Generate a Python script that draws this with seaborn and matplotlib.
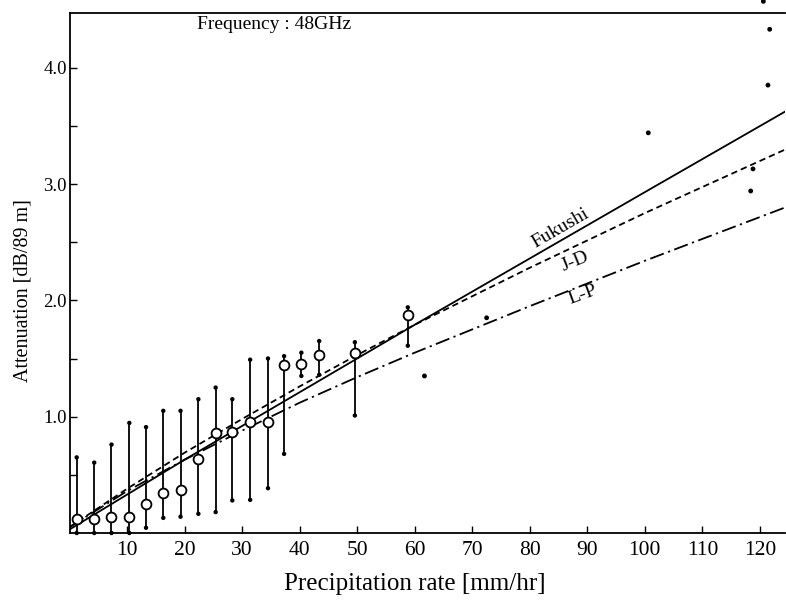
import numpy as np
import pandas as pd
import matplotlib
matplotlib.use("Agg")
import matplotlib.pyplot as plt
import seaborn as sns

# ---- data ----
rate = [1.25, 4.3, 7.3, 10.4, 13.3, 16.3, 19.3, 22.4, 25.4, 28.3, 31.4,
        34.5, 37.3, 40.3, 43.4, 49.6, 58.8]
atten_mean = [0.12, 0.12, 0.14, 0.14, 0.25, 0.34, 0.37, 0.64, 0.86, 0.87,
              0.95, 0.95, 1.44, 1.45, 1.53, 1.55, 1.87]
atten_low = [0.0, 0.0, 0.0, 0.0, 0.045, 0.13, 0.14, 0.165, 0.18, 0.28,
             0.285, 0.385, 0.68, 1.35, 1.36, 1.01, 1.61]
atten_high = [0.65, 0.605, 0.76, 0.946, 0.91, 1.05, 1.05, 1.15, 1.25, 1.15,
              1.49, 1.50, 1.52, 1.55, 1.65, 1.64, 1.94]

single_rate = [61.7, 72.5, 100.6, 118.8, 118.4, 121.7, 121.4, 120.6]
single_atten = [1.35, 1.85, 3.44, 3.13, 2.94, 4.33, 3.85, 4.57]

model_rate = [0, 10, 20, 30, 40, 50, 60, 80, 100, 125]
fukushi = [0.03, 0.33, 0.63, 0.92, 1.21, 1.50, 1.79, 2.36, 2.93, 3.64]
jd = [0.05, 0.38, 0.69, 0.98, 1.26, 1.53, 1.79, 2.28, 2.75, 3.31]
lp = [0.05, 0.36, 0.63, 0.88, 1.12, 1.34, 1.55, 1.95, 2.34, 2.81]

x_ticks = [10, 20, 30, 40, 50, 60, 70, 80, 90, 100, 110, 120]
y_ticks = [1.0, 2.0, 3.0, 4.0]
y_minor = [0.5, 1.5, 2.5, 3.5]

# ---- style ----
sns.set_theme(style="ticks")
plt.rcParams["font.family"] = ["Liberation Serif", "DejaVu Serif"]

fig = plt.figure(figsize=(7.86, 6.03), dpi=100)
ax = fig.add_axes([69.5 / 786, 1 - 533 / 603, 1 - 69.5 / 786 - 0.001, (533 - 13) / 603])

models = pd.DataFrame({"rate": model_rate * 3,
                       "atten": fukushi + jd + lp,
                       "model": ["Fukushi"] * len(model_rate) + ["J-D"] * len(model_rate)
                       + ["L-P"] * len(model_rate)})
sns.lineplot(data=models, x="rate", y="atten", style="model",
             dashes={"Fukushi": "", "J-D": (3.5, 2.2), "L-P": (8, 2.5, 1.2, 2.5)},
             color="black", linewidth=1.3, legend=False, ax=ax, zorder=2)

# error bars
ax.vlines(rate, atten_low, atten_high, colors="black", linewidth=1.3, zorder=3)
ends = pd.DataFrame({"rate": rate + rate, "atten": atten_low + atten_high})
sns.scatterplot(data=ends, x="rate", y="atten", color="black", s=10,
                edgecolor="none", ax=ax, zorder=4, clip_on=False)

means = pd.DataFrame({"rate": rate, "atten": atten_mean})
sns.scatterplot(data=means, x="rate", y="atten", marker="o", s=50,
                facecolor="white", edgecolor="black", linewidth=1.3, ax=ax, zorder=5)

singles = pd.DataFrame({"rate": single_rate, "atten": single_atten})
sns.scatterplot(data=singles, x="rate", y="atten", color="black", s=12,
                edgecolor="none", ax=ax, zorder=5, clip_on=False)

ax.set_xlim(0, 124.4)
ax.set_ylim(0, 4.47)
ax.set_xticks(x_ticks)
ax.set_xticklabels([str(t) for t in x_ticks], fontsize=15.5)
ax.set_yticks(y_ticks)
ax.set_yticklabels([f"{t:.1f}" for t in y_ticks], fontsize=13.5)
ax.set_yticks(y_minor, minor=True)
ax.tick_params(axis="both", which="both", direction="in", length=5, width=1.0,
               color="black", labelcolor="black")
ax.tick_params(axis="y", pad=2)
ax.tick_params(axis="x", pad=6)

for side in ["left", "bottom", "top"]:
    ax.spines[side].set_visible(True)
    ax.spines[side].set_color("black")
    ax.spines[side].set_linewidth(1.3)
ax.spines["right"].set_visible(False)

ax.set_xlabel("Precipitation rate [mm/hr]", fontsize=18, color="black")
ax.set_ylabel("Attenuation [dB/89 m]", fontsize=14.5, color="black")
ax.xaxis.set_label_coords((415 - 69.5) / (786 - 69.5), -(573 - 533) / 520)
ax.yaxis.set_label_coords(-(69.5 - 32) / (786 - 69.5), (533 - 291) / 520)

ax.text(22.1, 4.37, "Frequency : 48GHz", fontsize=14, ha="left", va="center", color="black")
ax.text(85.3, 2.62, "Fukushi", fontsize=14, rotation=30, ha="center", va="center",
        rotation_mode="anchor", color="black")
ax.text(87.8, 2.33, "J-D", fontsize=14, rotation=22, ha="center", va="center",
        rotation_mode="anchor", color="black")
ax.text(89.2, 2.05, "L-P", fontsize=14, rotation=20, ha="center", va="center",
        rotation_mode="anchor", color="black")

fig.savefig("out.png", dpi=100)
